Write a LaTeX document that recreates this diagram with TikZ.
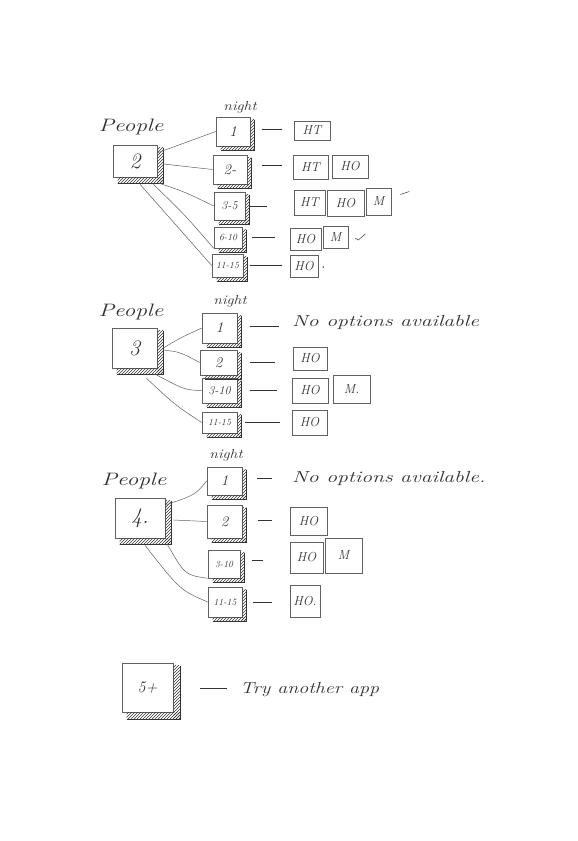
\documentclass[tikz,border=0pt]{standalone}
\usetikzlibrary{patterns,calc}
\definecolor{pencil}{gray}{0.38}
\definecolor{lead}{gray}{0.2}
\newcommand{\hatchbox}[2][5]{%
  \fill[pattern=north east lines, pattern color=lead] ($(#2.north east)+(0,3)$) rectangle ($(#2.south east)+(#1,#1)$);
  \fill[pattern=north east lines, pattern color=lead] ($(#2.south west)+(5,0)$) rectangle ($(#2.south east)+(#1,#1)$);
  \draw[lead, line width=0.5pt] ($(#2.north east)+(#1,3)$) -- ($(#2.south east)+(#1,#1)$) -- ($(#2.south west)+(5,#1)$);
}
\newcommand{\wide}[2][1.3]{\scalebox{#1}[1]{#2}}
\begin{document}
\begin{tikzpicture}[x=1pt,y=-1pt,
  every node/.style={text=lead, font=\itshape},
  pbox/.style={draw=pencil, line width=0.6pt, inner sep=0pt, font=\itshape\fontsize{22}{24}\selectfont},
  nbox/.style={draw=pencil, line width=0.6pt, inner sep=0pt, font=\itshape\fontsize{15}{17}\selectfont},
  mid/.style={font=\itshape\fontsize{12}{14}\selectfont},
  small/.style={font=\itshape\fontsize{9.5}{11}\selectfont},
  obox/.style={draw=pencil, line width=0.6pt, inner sep=0pt, font=\itshape\fontsize{13}{15}\selectfont},
  plabel/.style={font=\itshape\fontsize{18}{20}\selectfont},
  nlabel/.style={font=\itshape\fontsize{13}{15}\selectfont},
  note/.style={font=\itshape\fontsize{16}{18}\selectfont, anchor=west, inner sep=0pt},
  link/.style={draw=pencil, line width=0.5pt},
  tick/.style={draw=lead, line width=0.6pt}
]
\fill[white] (0,0) rectangle (578,841);
\useasboundingbox (0,0) rectangle (578,841);

% ===== People 2 =====
\node[plabel] (lp2) at (131,127) {\wide{People}};
\node[pbox, minimum width=44, minimum height=32] (p2) at (135,161) {2};
\hatchbox[6]{p2}
\node[nlabel] (ln2) at (240,107) {\wide[1.2]{night}};
\node[nbox, minimum width=34, minimum height=29] (a1) at (233,131.5) {1};
\node[nbox, minimum width=34, minimum height=29] (a2) at (230,169.5) {2-};
\node[nbox, mid, minimum width=31, minimum height=28] (a3) at (229.5,206) {3-5};
\node[nbox, small, minimum width=28, minimum height=21] (a4) at (228,237.5) {6-10};
\node[nbox, small, minimum width=31, minimum height=23] (a5) at (227.5,265.5) {11-15};
\foreach \n in {a1,a2,a3,a4,a5} {\hatchbox[4]{\n}}
\node[obox, minimum width=36, minimum height=19] (b11) at (312,130.5) {HT};
\node[obox, minimum width=35, minimum height=24] (b21) at (310.5,167.5) {HT};
\node[obox, minimum width=36, minimum height=23] (b22) at (350,166.5) {HO};
\node[obox, minimum width=31, minimum height=25] (b31) at (309.5,202.5) {HT};
\node[obox, minimum width=37, minimum height=26] (b32) at (345.5,203) {HO};
\node[obox, minimum width=25, minimum height=27] (b33) at (378.5,201.5) {M};
\node[obox, minimum width=31, minimum height=22] (b41) at (305.5,239) {HO};
\node[obox, minimum width=25, minimum height=22] (b42) at (335.5,237) {M};
\node[obox, minimum width=28, minimum height=22] (b51) at (304,266) {HO};
\draw[link] (p2.20) -- (a1.west);
\draw[link] ($(p2.east)+(6,3)$) -- (a2.west);
\draw[link] ($(p2.south east)+(2,6)$) .. controls (185,192) .. (a3.west);
\draw[link] ($(p2.south east)+(-4,7)$) .. controls (185,215) .. (a4.south west);
\draw[link] ($(p2.south)+(5,7)$) -- (a5.west);
\draw[tick] ($(a1.east)+(12,-2)$) -- ($(a1.east -| b11.west)+(-12,-2)$);
\draw[tick] ($(a2.east)+(15,-4)$) -- ($(a2.east -| b21.west)+(-11,-4)$);
\draw[tick] ($(a3.east)+(5,0)$) -- ($(a3.east -| b31.west)+(-27,0)$);
\draw[tick] ($(a4.east)+(10,0)$) -- ($(a4.east -| b41.west)+(-15,0)$);
\draw[tick] ($(a5.east)+(7,0)$) -- ($(a5.east -| b51.west)+(-8,0)$);
\draw[lead, line width=0.5pt] ($(b33.east)+(9,-7)$) -- ($(b33.east)+(18,-10)$);
\draw[lead, line width=0.5pt] ($(b42.east)+(7,1)$) -- ($(b42.east)+(10,3)$) -- ($(b42.east)+(17,-3)$);
\fill[lead] ($(b51.east)+(5,1)$) circle (0.8);

% ===== People 3 =====
\node[plabel] (lp3) at (131,312) {\wide{People}};
\node[pbox, minimum width=45, minimum height=40] (p3) at (134.5,348) {3};
\hatchbox[6]{p3}
\node[nlabel] (ln3) at (230,301) {\wide[1.2]{night}};
\node[nbox, minimum width=35, minimum height=30] (c1) at (219.5,328) {1};
\node[nbox, minimum width=37, minimum height=25] (c2) at (218.5,362.5) {2};
\node[nbox, mid, minimum width=35, minimum height=25] (c3) at (219.5,390.5) {3-10};
\node[nbox, small, minimum width=35, minimum height=21] (c4) at (219.5,422.5) {11-15};
\foreach \n in {c1,c2,c3,c4} {\hatchbox[4]{\n}}
\node[note] (t31) at (292,322) {\wide[1.35]{No options available}};
\node[obox, minimum width=34, minimum height=23] (d2) at (310,358.5) {HO};
\node[obox, minimum width=36, minimum height=25] (d31) at (310,390.5) {HO};
\node[obox, minimum width=37, minimum height=28] (d32) at (351.5,389) {M.};
\node[obox, minimum width=35, minimum height=25] (d4) at (309.5,422.5) {HO};
\draw[link] ($(p3.east)+(6,0)$) .. controls (180,338) .. (c1.west);
\draw[link] ($(p3.east)+(6,2)$) .. controls (180,352) .. (c2.west);
\draw[link] ($(p3.south east)+(-2,6)$) .. controls (185,390) .. (c3.west);
\draw[link] ($(p3.south)+(12,10)$) .. controls (175,405) .. (c4.west);
\draw[tick] ($(c1.east)+(13,-2)$) -- ($(c1.east -| t31.west)+(-13,-2)$);
\draw[tick] ($(c2.east)+(13,0)$) -- ($(c2.east -| d2.west)+(-18,0)$);
\draw[tick] ($(c3.east)+(13,0)$) -- ($(c3.east -| d31.west)+(-15,0)$);
\draw[tick] ($(c4.east)+(8,0)$) -- ($(c4.east -| d4.west)+(-12,0)$);

% ===== People 4 =====
\node[plabel] (lp4) at (134,481) {\wide{People}};
\node[pbox, minimum width=50, minimum height=40] (p4) at (140,518) {4.};
\hatchbox[6]{p4}
\node[nlabel] (ln4) at (226,455) {\wide[1.2]{night}};
\node[nbox, minimum width=35, minimum height=28] (e1) at (224.5,481) {1};
\node[nbox, minimum width=35, minimum height=33] (e2) at (224.5,521.5) {2};
\node[nbox, small, minimum width=32, minimum height=28] (e3) at (224,564) {3-10};
\node[nbox, small, minimum width=34, minimum height=30] (e4) at (225,602) {11-15};
\foreach \n in {e1,e2,e3,e4} {\hatchbox[4]{\n}}
\node[note] (t41) at (292,478) {\wide[1.35]{No options available.}};
\node[obox, minimum width=37, minimum height=28] (f2) at (308.5,521) {HO};
\node[obox, minimum width=33, minimum height=31] (f31) at (306.5,557.5) {HO};
\node[obox, minimum width=37, minimum height=35] (f32) at (343.5,555.5) {M};
\node[obox, minimum width=30, minimum height=32] (f4) at (305,601) {HO.};
\draw[link] ($(p4.north east)+(1,7)$) .. controls (195,495) .. (e1.west);
\draw[link] ($(p4.east)+(8,2)$) -- (e2.west);
\draw[link] ($(p4.south east)+(2,6)$) .. controls (185,575) .. (e3.south west);
\draw[link] ($(p4.south)+(5,7)$) .. controls (180,590) .. (e4.west);
\draw[tick] ($(e1.east)+(15,-3)$) -- ($(e1.east -| t41.west)+(-20,-3)$);
\draw[tick] ($(e2.east)+(16,-1)$) -- ($(e2.east -| f2.west)+(-18,-1)$);
\draw[tick] ($(e3.east)+(12,-4)$) -- ($(e3.east -| f31.west)+(-27,-4)$);
\draw[tick] ($(e4.east)+(11,0)$) -- ($(e4.east -| f4.west)+(-18,0)$);

% ===== 5+ =====
\node[pbox, minimum width=51, minimum height=49, font=\itshape\fontsize{16}{18}\selectfont] (p5) at (147.5,687.5) {5+};
\hatchbox[7]{p5}
\node[note] (t5) at (240,690) {\wide[1.25]{Try another app}};
\draw[tick] ($(p5.east)+(27,1)$) -- ($(p5.east -| t5.west)+(-13,1)$);
\end{tikzpicture}
\end{document}
